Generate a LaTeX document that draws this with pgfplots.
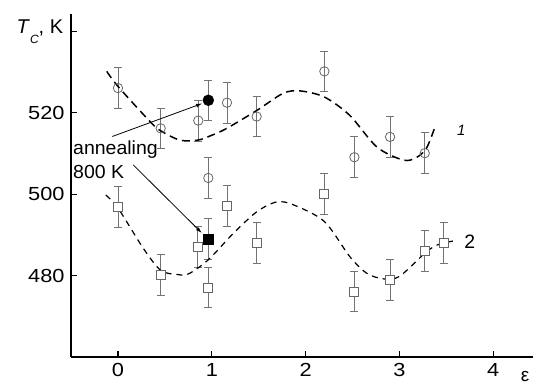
\documentclass[border=0pt]{standalone}
\usepackage{fontspec}
\setmainfont{Liberation Sans}
\usepackage{graphicx}
\usepackage{pgfplots}
\usepackage{pgfplotstable}
\pgfplotsset{compat=1.18}
\usetikzlibrary{arrows.meta}

\pgfplotstableread{
x y e
0 526.1 5
0.455 516.2 5
0.856 518.1 5
1.162 522.5 5
1.478 519.1 5
2.2 530.2 5
2.52 509.1 5
2.9 514.1 5
3.27 510.1 5
0.963 504.0 5
}\circlesdata
\pgfplotstableread{
x y e
0.963 523.1 5
}\filledcircle
\pgfplotstableread{
x y e
0 496.95 5
0.455 480.1 5
0.85 487.1 5
0.963 477.1 5
1.162 497.1 5
1.478 488.0 5
2.2 500.1 5
2.52 476.1 5
2.9 479.0 5
3.27 486.1 5
3.47 488.1 5
}\squaresdata
\pgfplotstableread{
x y e
0.963 489.0 5
}\filledsquare

\newcommand\lab{\fontsize{19}{19}\selectfont}
\newcommand\sx[1]{\scalebox{1.15}[1]{#1}}
\pgfplotsset{errstyle/.style={
  error bars/y dir=both, error bars/y explicit,
  error bars/error mark=|,
  error bars/error bar style={black!55, line width=0.8bp},
  error bars/error mark options={black!55, line width=0.8bp, mark size=4bp}}}
\begin{document}
\begin{tikzpicture}
\begin{axis}[
  name=ax,
  scale only axis,
  width=462bp, height=343bp,
  xmin=-0.501, xmax=4.424,
  ymin=460, ymax=544.3,
  axis lines=left,
  axis line style={-, line width=1.2bp},
  clip=false,
  tick align=inside,
  major tick length=6bp,
  tick style={line width=1.2bp, black},
  xtick={0,1,2,3,4}, xticklabels={\sx{0},\sx{1},\sx{2},\sx{3},\sx{4}},
  ytick={480,500,520,540}, yticklabels={\sx{480},\sx{500},\sx{520},},
  ticklabel style={font=\lab},
  xticklabel style={yshift=-3bp},
  yticklabel style={xshift=-3bp},
]
% error bars + markers
\addplot[only marks, mark=o, mark size=4.7bp, mark options={draw=black!60, fill=white, line width=0.8bp}, errstyle]
  table[x=x, y=y, y error=e]{\circlesdata};
\addplot[only marks, mark=square*, mark size=4.5bp, mark options={draw=black!60, fill=white, line width=0.8bp}, errstyle]
  table[x=x, y=y, y error=e]{\squaresdata};
\addplot[only marks, mark=*, mark size=5.5bp, mark options={draw=black, fill=black}, errstyle]
  table[x=x, y=y, y error=e]{\filledcircle};
\addplot[only marks, mark=square*, mark size=5.3bp, mark options={draw=black, fill=black}, errstyle]
  table[x=x, y=y, y error=e]{\filledsquare};
% dashed fits
\addplot[black, smooth, line width=1.5bp, dash pattern=on 8bp off 5bp, no marks] coordinates {
(-0.12,530.2) (0.0,526.5) (0.34,517.9) (0.455,515.6) (0.66,513.3) (0.85,513.3) (1.0,514.5) (1.16,516.2)
(1.48,520.6) (1.76,524.8) (1.94,525.4) (2.2,523.9) (2.47,519.4) (2.76,511.6) (3.04,508.4) (3.18,509)
(3.29,511.4) (3.38,516.6)};
\addplot[black, smooth, line width=1.2bp, dash pattern=on 6bp off 5bp, no marks] coordinates {
(-0.13,499.8) (0,496.6) (0.27,486.7) (0.455,481.3) (0.625,480.3) (0.75,480.4) (0.963,483.9) (1.23,490.4)
(1.48,495.7) (1.69,498.1) (1.87,497.4) (2.2,493.3) (2.47,484.7) (2.65,480.6) (2.83,479.2) (3.0,479.8)
(3.27,485.5) (3.4,487.5) (3.57,488.5)};
% annotations
\draw[-{Latex[length=6bp,width=4bp]}, line width=0.8bp] (axis cs:-0.06,514.2) -- (axis cs:0.896,522.3);
\draw[-{Latex[length=6bp,width=4bp]}, line width=0.8bp] (axis cs:0.163,507.2) -- (axis cs:0.892,490.5);
\node[anchor=base west, inner sep=0pt, font=\lab] at (axis cs:-0.48,509.85) {\scalebox{1.03}[1]{annealing}};
\node[anchor=base west, inner sep=0pt, font=\lab] at (axis cs:-0.48,503.9) {\scalebox{1.03}[1]{800 K}};
\node[inner sep=0pt, font=\fontsize{15}{15}\selectfont\itshape] at (axis cs:3.66,515.7) {1};
\node[inner sep=0pt, font=\fontsize{19.5}{19.5}\selectfont] at (axis cs:3.75,488.3) {2};
\node[inner sep=0pt, font=\lab] at (axis cs:4.34,455.1) {ε};
\node[anchor=base east, inner sep=0pt, font=\fontsize{20}{20}\selectfont, xshift=-7.7bp, yshift=-19.3bp] at (rel axis cs:0,1)
  {\textit{T}\raisebox{-10.5bp}{\fontsize{12}{12}\selectfont\textit{C}}, K};
\end{axis}
\pgfresetboundingbox
\path (ax.south west) ++(-71bp,-30bp) rectangle ++(533bp,387bp);
\end{tikzpicture}
\end{document}
